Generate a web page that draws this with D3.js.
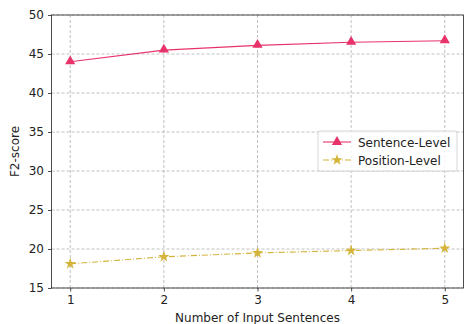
<!DOCTYPE html>
<html lang="en">
<head>
    <meta charset="UTF-8">
    <title>F2-score</title>
    <script src="https://cdn.jsdelivr.net/npm/d3@7"></script>
    <style>
        body { margin: 0; background: #fff; }
        text { font-family: "DejaVu Sans", sans-serif; fill: #222; }
    </style>
</head>
<body>
    <script>
        // data
        var sentences = [1, 2, 3, 4, 5];
        var sentenceLevel = [44.0, 45.5, 46.1, 46.5, 46.7];
        var positionLevel = [18.1, 19.0, 19.5, 19.8, 20.1];
        var yTicks = [15, 20, 25, 30, 35, 40, 45, 50];

        var w = 465, h = 324;
        // plot area edges
        var pl = 51.5, pr = 463.5, pt = 15, pb = 288;

        var svg = d3.select("body").append("svg")
            .attr("width", w)
            .attr("height", h);

        var x = d3.scaleLinear().domain([0.8, 5.2]).range([pl, pr]);
        var y = d3.scaleLinear().domain([15, 50]).range([pb, pt]);

        // grid
        svg.append("g").selectAll("line").data(sentences).enter().append("line")
            .attr("x1", d => x(d)).attr("x2", d => x(d))
            .attr("y1", pt).attr("y2", pb)
            .attr("stroke", "#b0b0b0").attr("stroke-width", 0.8)
            .attr("stroke-dasharray", "3,2");
        svg.append("g").selectAll("line").data(yTicks).enter().append("line")
            .attr("x1", pl).attr("x2", pr)
            .attr("y1", d => y(d)).attr("y2", d => y(d))
            .attr("stroke", "#b0b0b0").attr("stroke-width", 0.8)
            .attr("stroke-dasharray", "3,2");

        // axes
        var xAxis = svg.append("g")
            .attr("transform", "translate(0," + pb + ")")
            .call(d3.axisBottom(x).tickValues(sentences).tickSize(3.5).tickPadding(4).tickFormat(d3.format("d")));
        var yAxis = svg.append("g")
            .attr("transform", "translate(" + pl + ",0)")
            .call(d3.axisLeft(y).tickValues(yTicks).tickSize(3.5).tickPadding(4).tickFormat(d3.format("d")));
        [xAxis, yAxis].forEach(function (a) {
            a.select(".domain").remove();
            a.selectAll("text").style("font-size", "12px").attr("fill", "#222")
                .style("font-family", "'DejaVu Sans', sans-serif");
            a.selectAll("line").attr("stroke", "#222").attr("stroke-width", 0.8);
        });

        // frame
        svg.append("rect")
            .attr("x", pl).attr("y", pt)
            .attr("width", pr - pl).attr("height", pb - pt)
            .attr("fill", "none").attr("stroke", "#222").attr("stroke-width", 0.8);

        var pink = "#e8336a", gold = "#d4b43a";
        var line = d3.line().x((d, i) => x(sentences[i])).y(d => y(d));

        svg.append("path").datum(sentenceLevel)
            .attr("d", line).attr("fill", "none")
            .attr("stroke", pink).attr("stroke-width", 1.1);
        svg.append("path").datum(positionLevel)
            .attr("d", line).attr("fill", "none")
            .attr("stroke", gold).attr("stroke-width", 1.1)
            .attr("stroke-dasharray", "6,2,1,2");

        var tri = d3.symbol().type(d3.symbolTriangle).size(45);
        var star = d3.symbol().type(d3.symbolStar).size(40);

        svg.append("g").selectAll("path").data(sentenceLevel).enter().append("path")
            .attr("d", tri)
            .attr("transform", (d, i) => "translate(" + x(sentences[i]) + "," + (y(d) - 0.5) + ")")
            .attr("fill", pink);
        svg.append("g").selectAll("path").data(positionLevel).enter().append("path")
            .attr("d", star)
            .attr("transform", (d, i) => "translate(" + x(sentences[i]) + "," + y(d) + ")")
            .attr("fill", gold);

        // labels
        svg.append("text")
            .attr("x", (pl + pr) / 2).attr("y", 322)
            .attr("text-anchor", "middle")
            .style("font-size", "12px")
            .text("Number of Input Sentences");
        svg.append("text")
            .attr("transform", "translate(19," + ((pt + pb) / 2) + ") rotate(-90)")
            .attr("text-anchor", "middle")
            .style("font-size", "12px")
            .text("F2-score");

        // legend
        var lg = svg.append("g").attr("transform", "translate(318,131)");
        lg.append("rect")
            .attr("width", 139).attr("height", 40).attr("rx", 2)
            .attr("fill", "rgba(255,255,255,0.8)")
            .attr("stroke", "#ccc").attr("stroke-width", 0.8);
        var items = [
            { name: "Sentence-Level", color: pink, sym: tri, dash: null },
            { name: "Position-Level", color: gold, sym: star, dash: "6,2,1,2" }
        ];
        items.forEach(function (it, i) {
            var cy = 11 + i * 18;
            lg.append("line")
                .attr("x1", 5).attr("x2", 33).attr("y1", cy).attr("y2", cy)
                .attr("stroke", it.color).attr("stroke-width", 1.1)
                .attr("stroke-dasharray", it.dash);
            lg.append("path").attr("d", it.sym)
                .attr("transform", "translate(19," + cy + ")")
                .attr("fill", it.color);
            lg.append("text")
                .attr("x", 40).attr("y", cy + 4.5)
                .style("font-size", "12px")
                .text(it.name);
        });
    </script>
</body>
</html>
